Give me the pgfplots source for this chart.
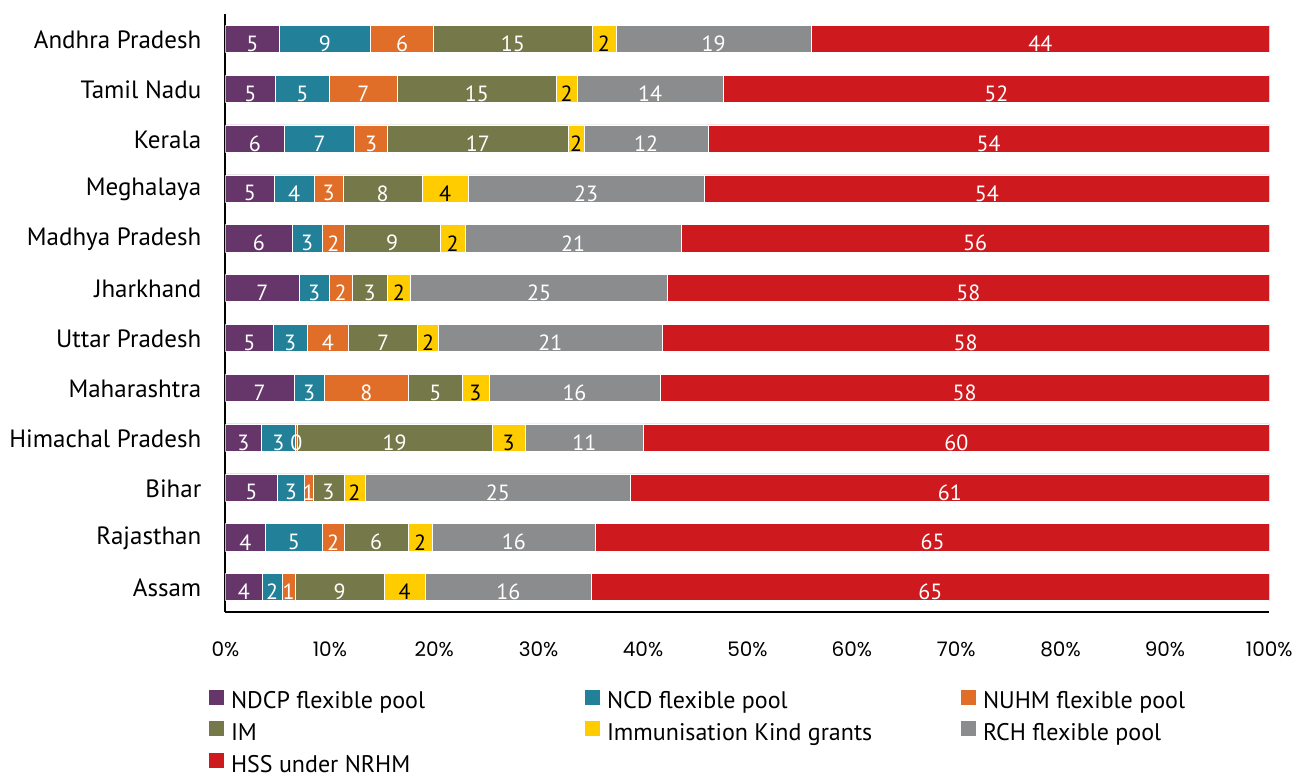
\documentclass[border=0pt]{standalone}
\usepackage{pgfplots}
\pgfplotsset{compat=1.18}
\usepackage{pgfplotstable}
\usepackage{fontspec}
\setmainfont{PT Sans}
\newfontfamily\tickfont{Poppins}

\definecolor{cNDCP}{RGB}{102,54,106}
\definecolor{cNCD}{RGB}{34,129,152}
\definecolor{cNUHM}{RGB}{224,110,40}
\definecolor{cIM}{RGB}{117,120,72}
\definecolor{cImm}{RGB}{255,204,0}
\definecolor{cRCH}{RGB}{139,140,142}
\definecolor{cHSS}{RGB}{206,25,30}

% segment shares (%), y: 0 = Assam ... 11 = Andhra Pradesh
\pgfplotstableread{
y  NDCP NCD  NUHM IM    Imm  RCH   HSS
11 5.15 8.72 6.08 15.16 2.30 18.71 43.88
10 4.77 5.17 6.56 15.16 2.02 14.01 52.31
9  5.63 6.75 3.16 17.28 1.55 11.86 53.77
8  4.68 3.80 2.78 7.57  4.40 22.64 54.13
7  6.37 2.90 2.11 9.17  2.40 20.69 56.36
6  7.07 2.85 2.20 3.38  2.24 24.62 57.64
5  4.55 3.26 3.99 6.61  2.02 21.39 58.18
4  6.55 2.89 8.11 5.11  2.58 16.39 58.37
3  3.43 3.26 0.19 18.65 3.19 11.31 59.97
2  4.96 2.59 0.83 2.97  2.01 25.45 61.19
1  3.81 5.46 2.08 6.16  2.27 15.69 64.53
0  3.53 1.88 1.25 8.53  3.95 15.94 64.92
}\shares

% label positions (segment centres) and printed values
\pgfplotstableread{
x y l
2.575 11 5
9.51 11 9
16.91 11 6
27.53 11 15
46.765 11 19
78.06 11 44
2.385 10 5
7.355 10 5
13.22 10 7
24.08 10 15
40.685 10 14
73.845 10 52
2.815 9 6
9.005 9 7
13.96 9 3
24.18 9 17
40.30 9 12
73.115 9 54
2.34 8 5
6.58 8 4
9.87 8 3
15.045 8 8
34.55 8 23
72.935 8 54
3.185 7 6
7.82 7 3
10.325 7 2
15.965 7 9
33.295 7 21
71.82 7 56
3.535 6 7
8.495 6 3
11.02 6 2
13.81 6 3
30.05 6 25
71.18 6 58
2.275 5 5
6.18 5 3
9.805 5 4
15.105 5 7
31.125 5 21
70.91 5 58
3.275 4 7
8.0 4 3
13.495 4 8
20.105 4 5
33.435 4 16
70.815 4 58
1.715 3 3
5.06 3 3
6.785 3 0
16.205 3 19
34.375 3 11
70.015 3 60
2.48 2 5
6.255 2 3
7.965 2 1
9.865 2 3
26.085 2 25
69.405 2 61
1.905 1 4
6.54 1 5
10.31 1 2
14.43 1 6
27.625 1 16
67.735 1 65
1.765 0 4
4.47 0 2
6.035 0 1
10.925 0 9
27.11 0 16
67.54 0 65
}\whitelabels

\pgfplotstableread{
x y l
36.26 11 2
32.67 10 2
33.595 9 2
21.03 8 4
21.75 7 2
16.62 6 2
19.42 5 2
23.95 4 3
27.125 3 3
12.355 2 2
18.645 1 2
17.165 0 4
}\blacklabels

\newcommand{\lgd}[1]{\makebox[354pt][l]{\rule[-7pt]{0pt}{31pt}#1}}

\begin{document}
\begin{tikzpicture}
\path[use as bounding box] (0,0) rectangle (1302pt,780pt);
\begin{axis}[
  at={(225.5pt,168pt)}, anchor=south west,
  scale only axis, width=1043.8pt, height=598pt,
  xbar stacked, bar width=27.3pt,
  xmin=0, xmax=100, ymin=-0.5, ymax=11.5,
  axis x line*=bottom, axis y line*=left,
  axis line style={line width=2pt, black, -},
  major tick length=0pt,
  xtick={0,10,...,100},
  xticklabels={0\%,10\%,20\%,30\%,40\%,50\%,60\%,70\%,80\%,90\%,100\%},
  xticklabel style={font=\tickfont\fontsize{20}{23}\selectfont, inner sep=0pt, anchor=north, yshift=-30pt},
  ytick={0,...,11},
  yticklabels={Assam,Rajasthan,Bihar,Himachal Pradesh,Maharashtra,Uttar Pradesh,Jharkhand,Madhya Pradesh,Meghalaya,Kerala,Tamil Nadu,Andhra Pradesh},
  yticklabel style={font=\fontsize{25}{29}\selectfont, inner sep=0pt, anchor=east, xshift=-24pt, yshift=-1pt},
  every axis plot/.append style={draw=white, line width=0.5pt},
  legend image code/.code={\fill[#1,draw=none] (0pt,-7pt) rectangle (15pt,8pt);},
  legend columns=3,
  legend style={draw=none, fill=none, inner sep=0pt, outer sep=0pt,
    at={(-0.0158,-0.1220)}, anchor=north west,
    font=\fontsize{24}{28}\selectfont,
    row sep=6.2pt,
    /tikz/every odd column/.append style={column sep=7pt},
    /tikz/every even column/.append style={column sep=0pt},
    nodes={inner sep=0pt, outer sep=0pt}},
]
\addplot[fill=cNDCP] table[x=NDCP,y=y]{\shares};
\addlegendentry{\lgd{NDCP flexible pool}}
\addplot[fill=cNCD] table[x=NCD,y=y]{\shares};
\addlegendentry{\lgd{NCD flexible pool}}
\addplot[fill=cNUHM] table[x=NUHM,y=y]{\shares};
\addlegendentry{\lgd{NUHM flexible pool}}
\addplot[fill=cIM] table[x=IM,y=y]{\shares};
\addlegendentry{\lgd{IM}}
\addplot[fill=cImm] table[x=Imm,y=y]{\shares};
\addlegendentry{\lgd{Immunisation Kind grants}}
\addplot[fill=cRCH] table[x=RCH,y=y]{\shares};
\addlegendentry{\lgd{RCH flexible pool}}
\addplot[fill=cHSS] table[x=HSS,y=y]{\shares};
\addlegendentry{\lgd{HSS under NRHM}}
\end{axis}
\begin{axis}[
  at={(225.5pt,168pt)}, anchor=south west,
  scale only axis, width=1043.8pt, height=598pt,
  xmin=0, xmax=100, ymin=-0.5, ymax=11.5,
  hide axis, clip=false,
]
\addplot[draw=none, mark=none, nodes near coords, point meta=explicit symbolic,
  nodes near coords style={anchor=center, inner sep=0pt, text=white, yshift=-5pt, font=\fontsize{22}{26}\selectfont}]
  table[x=x,y=y,meta=l]{\whitelabels};
\addplot[draw=none, mark=none, nodes near coords, point meta=explicit symbolic,
  nodes near coords style={anchor=center, inner sep=0pt, text=black, yshift=-5pt, font=\fontsize{22}{26}\selectfont}]
  table[x=x,y=y,meta=l]{\blacklabels};
\end{axis}
\end{tikzpicture}
\end{document}
